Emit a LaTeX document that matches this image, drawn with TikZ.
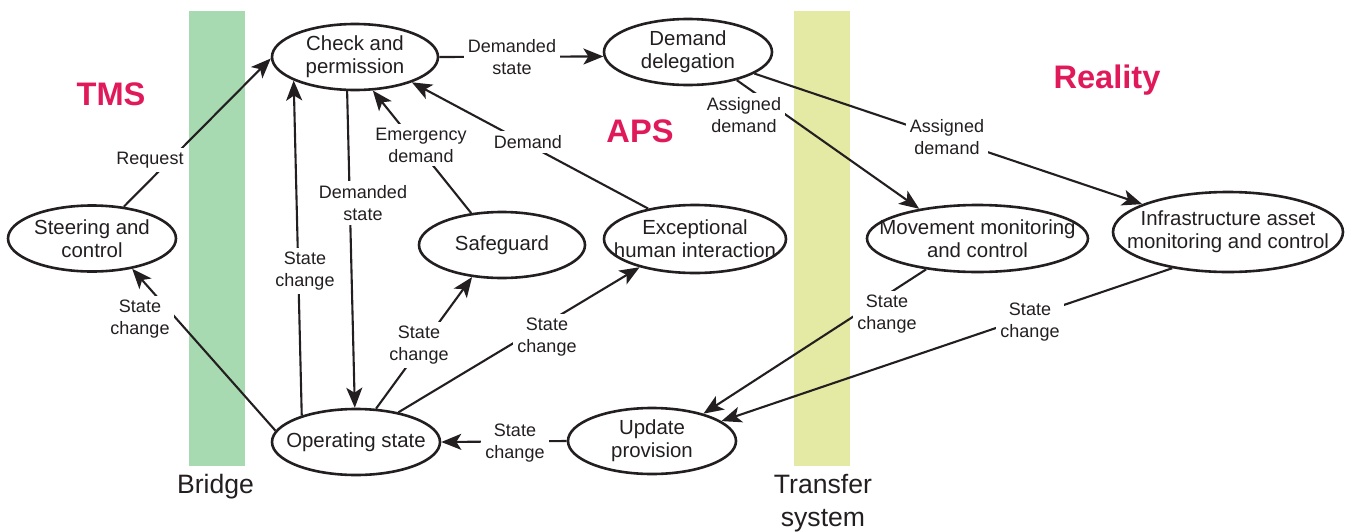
\documentclass[tikz,border=0pt]{standalone}
\usepackage{fontspec}
\setmainfont{Liberation Sans}
\usetikzlibrary{shapes.geometric,arrows.meta}
\definecolor{ink}{HTML}{231F20}
\definecolor{mag}{HTML}{E0195A}
\definecolor{bgreen}{HTML}{A7DAB1}
\definecolor{byellow}{HTML}{E4E9A3}
\begin{document}
\begin{tikzpicture}[x=0.5pt,y=-0.5pt,
 ell/.style={ellipse, draw=ink, line width=1.3pt, inner sep=0pt, fill=white},
 ntxt/.style={font=\fontsize{10.2}{11.6}\selectfont, text=ink, align=center, inner sep=0pt},
 lbl/.style={font=\fontsize{9}{11}\selectfont, text=ink, align=center, fill=white, inner sep=2pt},
 conn/.style={draw=ink, line width=1.05pt},
 arr/.style={conn, -{Stealth[length=10pt,width=8pt,inset=2.5pt]}},
 zone/.style={font=\bfseries\fontsize{16.3}{19}\selectfont, text=mag, anchor=base, inner sep=0pt},
 barlbl/.style={font=\fontsize{13.3}{16.5}\selectfont, text=ink, align=center, inner sep=0pt}
]
\useasboundingbox (0,0) rectangle (1351,531);

% bars
\fill[bgreen] (189,11) rectangle (245,466);
\fill[byellow] (794,11) rectangle (850,466);
\node[barlbl, anchor=base] (bridge) at (215.5,493) {Bridge};
\node[barlbl] (transfer) at (823,503) {Transfer\\system};

% zone titles
\node[zone] (tms) at (111,105) {TMS};
\node[zone] (aps) at (640,142) {APS};
\node[zone] (reality) at (1107,88) {Reality};

% ellipses
\node[ell, minimum width=83pt, minimum height=33pt, label={[ntxt]center:{Check and\\permission}}] (check) at (355,57) {};
\node[ell, minimum width=84pt, minimum height=33pt, label={[ntxt]center:{Demand\\delegation}}] (dd) at (688,52) {};
\node[ell, minimum width=84pt, minimum height=33pt, label={[ntxt]center:{Steering and\\control}}] (steer) at (92,238.5) {};
\node[ell, minimum width=83pt, minimum height=33pt, label={[ntxt]center:{Safeguard}}] (safe) at (502,245) {};
\node[ell, minimum width=91pt, minimum height=34pt, label={[ntxt]center:{Exceptional\\human interaction}}] (exc) at (695,239) {};
\node[ell, minimum width=110.5pt, minimum height=33.5pt, label={[ntxt]center:{Movement monitoring\\and control}}] (move) at (977.5,238.5) {};
\node[ell, minimum width=115pt, minimum height=40pt, label={[ntxt]center:{Infrastructure asset\\monitoring and control}}] (infra) at (1228,232) {};
\node[ell, minimum width=84pt, minimum height=33pt, label={[ntxt]center:{Operating state}}] (op) at (356,442) {};
\node[ell, minimum width=84pt, minimum height=33pt, label={[ntxt]center:{Update\\provision}}] (upd) at (652,441) {};

% connectors
\draw[arr] (steer.45) -- (check.181);
\draw[arr] (op.172) -- (steer.323);
\draw[arr] (op.154) -- (check.201);
\draw[arr] (check.257) -- (op.92);
\draw[arr] (safe.134) -- (check.298.6);
\draw[arr] (exc.147.4) -- (check.336.6);
\draw[arr] (check.0) -- (dd.183);
\draw[arr] (dd.330) -- (move.153);
\draw[arr] (dd.342.6) -- (infra.162.9);
\draw[arr] (move.211.1) -- (upd.28.8);
\draw[arr] (infra.213.9) -- (upd.16.7);
\draw[arr] (upd.180) -- (op.0);
\draw[arr] (op.59) -- (safe.227.6);
\draw[arr] (op.35.5) -- (exc.207.8);

% connector labels
\node[lbl] (lreq) at (150,160) {Request};
\node[lbl] (lsc1) at (140,319) {State\\change};
\node[lbl] (lsc2) at (305,271) {State\\change};
\node[lbl] (lds1) at (363,203) {Demanded\\state};
\node[lbl] (lemg) at (421,145) {Emergency\\demand};
\node[lbl] (ldem) at (528,142) {Demand};
\node[lbl] (lds2) at (512,57) {Demanded\\state};
\node[lbl] (lad1) at (744,115) {Assigned\\demand};
\node[lbl] (lad2) at (947,137) {Assigned\\demand};
\node[lbl] (lsc3) at (887,314) {State\\change};
\node[lbl] (lsc4) at (1030,322) {State\\change};
\node[lbl] (lsc5) at (515,443) {State\\change};
\node[lbl] (lsc6) at (419,345) {State\\change};
\node[lbl] (lsc7) at (547,337) {State\\change};
\end{tikzpicture}
\end{document}
